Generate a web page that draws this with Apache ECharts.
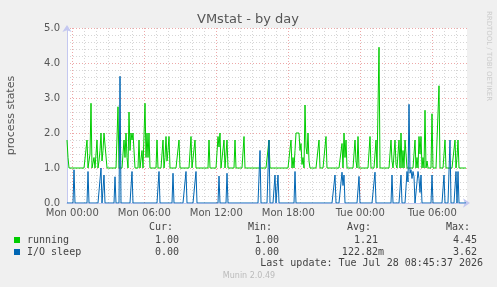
<!DOCTYPE html>
<html><head><meta charset="utf-8">
<script src="https://cdn.jsdelivr.net/npm/echarts@6/dist/echarts.min.js"></script>
<style>html,body{margin:0;padding:0;background:#f0f0f0}#c{width:497px;height:287px}</style>
</head><body><div id="c"></div>
<script>
// 5-minute samples, 400 points; x is hours since Mon Jul 27 2026 00:00
var sampleStartHour = -0.4417;
var stepHours = 5 / 60;
var majorTicks = [0, 6, 12, 18, 24, 30];
var majorLabels = ['Mon 00:00', 'Mon 06:00', 'Mon 12:00', 'Mon 18:00', 'Tue 00:00', 'Tue 06:00'];
var minorTicks = [0,1,2,3,4,5,6,7,8,9,10,11,12,13,14,15,16,17,18,19,20,21,22,23,24,25,26,27,28,29,30,31,32];
var yTicks = [0, 1, 2, 3, 4, 5];

var running = [
 1.8,1.3,1,1,1,1,1,1,1,1, 1,1,1,1,1,1,1,1,1,1,
 1.8,1,1,1.4,2.85,1,1,1.3,1,1, 1.8,1,1.2,1.5,2.0,1.2,1.5,2.0,2.0,2.0,
 1,1,1,1,1,1,1,1,1,1, 1,2.75,1,1,1,1,1,1.8,1.3,2.0,
 1.3,1,2.6,1.5,2.0,1.8,2.0,2.0,1,1, 1,1,1.8,1,1,1.5,1,1,2.85,1.3,
 2.0,1.3,2.0,1,1,1,1,1,1,1, 1.8,1,1,1,1,1,1.8,1,1.3,1.9,
 1.2,1.5,1.9,1,1,1,1,1,1,1, 1,1,1.8,1,1,1,1,1,1,1,
 1,1,1,1,1.9,1,1,1,1.8,1, 1,1,1,1,1,1,1,1,1,1,
 1,1,1.8,1,1,1,1,1,1,1, 1,1.9,1.6,2.0,1,1,1,1.8,1,1,
 1.8,1,1,1,1,1,1,1,1.8,1, 1,1,1,1,1,1,1,1.9,1,1,
 1,1,1,1,1,1,1,1,1,1, 1,1,1,1,1,1,1,1,1,1,
 1,1,1.8,1,1,1,1,1,1,1, 1,1,1,1,1,1,1,1,1,1,
 1,1,1,1,1.8,1,1.3,1,1.5,2.0, 2.0,2.0,2.0,1.5,1.7,1.1,1.3,1,2.8,1.6,
 1.4,2.0,1.2,1,1,1,1,1,1,1, 1,1,1.8,1,1,1,1,1,1,1.9,
 1,1,1,1,1,1,1,1,1,1, 1,1,1,1,1,1.7,1,2.0,1.3,1.8,
 1,1,1,1,1,1,1,1,1.8,1.2, 1,1.9,1,1,1,1,1,1,1,1,
 1,1,1,1.9,1,1,1,1,1,1.8, 1,1,4.45,1,1,1,1,1,1,1,
 1,1,1,1,1.8,1.2,1,1,1.8,1.1, 1,1,1.8,1,2.0,1,1.5,1,1.8,1.4,
 1,1,1,1,1,1,1,1,1.8,1, 1.3,1,1.9,1.4,1.9,1,1.3,1,2.65,1,
 1.2,1,1,1,1,2.55,1,1,1,1, 1,1,3.35,1,1,1,1,1,1.8,1,
 1,1,1,1,1,1,1,1,1.8,1, 1.3,1.8,1,1,1,1,1,1,1,1
];
var ioSleep = [
 0,0,0,0,0,0,0,0.95,0,0, 0,0,0,0,0,0,0,0,0,0,
 0,0.9,0,0,0,0,0,0,0,0, 0,0,0,0,1.0,0,0,0.8,0,0,
 0,0,0,0,0,0,0,0,0.75,0, 0,0,0,3.62,0,0,0,0,0,0,
 0,0,0,0,0,0.9,0,0,0,0, 0,0,0,0,0,0,0,0,0,0,
 0,0,0,0,0,0,0,0,0,0, 0,0,0.9,0,0,0,0,0,0,0,
 0,0,0,0,0,0,0.85,0,0,0, 0,0,0,0,0,0,0,0,0,0.9,
 0,0,0,0,0,0,0,0,0,0.9, 0,0,0,0,0,0,0,0,0,0,
 0,0,0,0,0,0,0,0,0,0, 0,0,0.77,0,0,0,0,0,0,0,
 0.85,0,0,0,0,0,0,0,0,0, 0,0,0,0,0,0,0,0,0,0,
 0,0,0,0,0,0,0,0,0,0, 0,0,0,1.5,0,0,0,0,0,0,
 0,0,1.8,0,0,0,0,0,0.8,0, 0,0.8,0,0,0,0,0,0,0,0,
 0,0,0,0,0,0,0,0,0.9,0, 0,0,0,0,0,0,0,0,0,0,
 0,0,0,0,0,0,0,0,0,0, 0,0,0,0,0,0,0,0,0,0,
 0,0,0,0,0,0,0,0,0.8,0, 0,0,0,0,0,0.88,0.5,0.8,0,0,
 0,0,0,0,0,0,0,0,0,0, 0,0,0.76,0,0,0,0,0,0,0,
 0,0,0,0,0,0,0,0,0.88,0, 0,0,0,0,0,0,0,0,0,0,
 0,0,0,0,0,0.8,0,0,0,0, 0,0,0,0,0.8,0,0,0,0,0,
 0.9,0.6,2.82,0.85,0.95,0.7,0.9,0.75,0,0, 0,0.9,0.7,0.3,0.8,0,0,0,0,0,
 0,0,0,0,0,0.8,0,0,0,0, 0,0,0,0,0,0,0,0.8,0,0,
 0,0,0,1.8,0,0,0,0,0,0.9, 0,0.9,0,0,0,0,0,0,0,0
];

var legendHead = ['Cur:', 'Min:', 'Avg:', 'Max:'];
var runningStats = ['1.00', '1.00', '1.21', '4.45'];
var ioStats = ['0.00', '0.00', '122.82m', '3.62'];
var lastUpdate = 'Last update: Tue Jul 28 08:45:37 2026';

function toPairs(arr) {
  return arr.map(function (v, i) { return [sampleStartHour + i * stepHours, v]; });
}
var xMin = sampleStartHour, xMax = sampleStartHour + 400 * stepHours;

var mono = 'DejaVu Sans Mono';
var txtCol = '#444';
var graphics = [];
function t(x, y, s, align, opts) {
  opts = opts || {};
  graphics.push({type: 'text', x: x, y: y, rotation: opts.rot || 0, style: {
    text: s, fill: opts.fill || txtCol, font: opts.font || ('10px ' + mono),
    textAlign: align, textVerticalAlign: 'middle'}});
}
var headX = [173, 272, 371, 470];
legendHead.forEach(function (h, i) { t(headX[i], 227.5, h, 'right'); });
var valX1 = [179, 279, 378, 477];
var valX2 = [179, 279, 384, 477];
runningStats.forEach(function (v, i) { t(valX1[i], 240, v, 'right'); });
ioStats.forEach(function (v, i) { t(valX2[i], 252, v, 'right'); });
t(27, 240, 'running', 'left');
t(27, 252, 'I/O sleep', 'left');
graphics.push({type: 'rect', shape: {x: 14, y: 237, width: 6, height: 6}, style: {fill: '#00cc00'}});
graphics.push({type: 'rect', shape: {x: 14, y: 249, width: 6, height: 6}, style: {fill: '#0066b3'}});
t(483, 263.5, lastUpdate, 'right');
t(249, 276, 'Munin 2.0.49', 'center', {fill: '#bbbbbb', font: '8px DejaVu Sans'});
t(248, 19.5, 'VMstat - by day', 'center', {fill: '#555', font: '13px DejaVu Sans'});
t(11.5, 115.5, 'process states', 'center', {fill: '#555', font: '11px DejaVu Sans', rot: Math.PI / 2});
t(488.5, 56, 'RRDTOOL / TOBI OETIKER', 'center', {fill: '#cccccc', font: '7px DejaVu Sans', rot: -Math.PI / 2});

var chart = echarts.init(document.getElementById('c'), null, {renderer: 'canvas'});
chart.setOption({
  backgroundColor: '#f0f0f0',
  animation: false,
  grid: {left: 67, top: 28, width: 400, height: 175, show: true, backgroundColor: '#ffffff', borderWidth: 0},
  xAxis: [{
    type: 'value', min: xMin, max: xMax, z: 2,
    axisLine: {show: true, onZero: false, lineStyle: {color: '#c4c8f0'}, symbol: ['none', 'arrow'], symbolSize: [7, 7], symbolOffset: [0, 3]},
    axisTick: {show: false, customValues: majorTicks},
    axisLabel: {
      color: '#555', fontFamily: 'DejaVu Sans', fontSize: 10, margin: 5, customValues: majorTicks,
      formatter: function (v) { return majorLabels[majorTicks.indexOf(Math.round(v))]; }
    },
    splitLine: {show: true, lineStyle: {color: '#eda8a8', type: [1, 2]}}
  }, {
    type: 'value', min: xMin, max: xMax, position: 'bottom', z: 1,
    axisLine: {show: false, onZero: false}, axisLabel: {show: false},
    axisTick: {show: false, customValues: minorTicks},
    splitLine: {show: true, lineStyle: {color: '#d6d6d6', type: [1, 2]}}
  }],
  yAxis: {
    type: 'value', min: 0, max: 5, interval: 1,
    axisLine: {show: true, onZero: false, lineStyle: {color: '#c4c8f0'}, symbol: ['none', 'arrow'], symbolSize: [7, 7], symbolOffset: [0, 3]},
    axisTick: {show: false},
    axisLabel: {color: '#555', fontFamily: 'DejaVu Sans', fontSize: 10, margin: 7,
      customValues: yTicks, formatter: function (v) { return v.toFixed(1); }},
    splitLine: {show: true, lineStyle: {color: '#eda8a8', type: [1, 2]}},
    minorTick: {show: false, splitNumber: 5},
    minorSplitLine: {show: true, lineStyle: {color: '#d6d6d6', type: [1, 2]}}
  },
  series: [
    {name: 'running', type: 'line', xAxisIndex: 0, data: toPairs(running), showSymbol: false, symbol: 'none',
      lineStyle: {color: '#00cc00', width: 1}, z: 3},
    {name: 'I/O sleep', type: 'line', xAxisIndex: 0, data: toPairs(ioSleep), showSymbol: false, symbol: 'none',
      lineStyle: {color: '#0066b3', width: 1}, z: 4}
  ],
  graphic: graphics
});
</script></body></html>
